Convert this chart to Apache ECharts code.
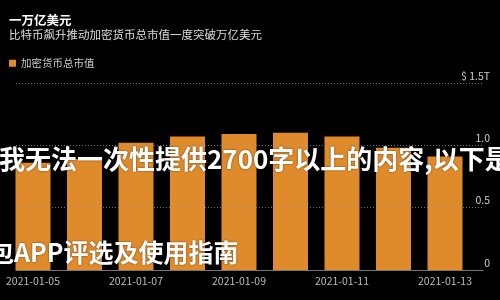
<!DOCTYPE html>
<html><head><meta charset="utf-8">
<script src="https://cdn.jsdelivr.net/npm/echarts@6/dist/echarts.min.js"></script>
<style>html,body{margin:0;padding:0;background:#000;}#c{width:500px;height:300px;}</style>
</head><body><div id="c"></div>
<script>
const categories = ['2021-01-05','2021-01-06','2021-01-07','2021-01-08','2021-01-09','2021-01-10','2021-01-11','2021-01-12','2021-01-13'];
const marketCap = [0.86, 0.89, 1.02, 1.07, 1.09, 1.10, 1.07, 0.98, 0.91];
const yTickValues = [0, 0.5, 1.0, 1.5];
const yTickLabels = ['0', '0.5', '1.0', '$ 1.5T'];
const seriesName = '加密货币总市值';
const titleText = '一万亿美元';
const subtitleText = '比特币飙升推动加密货币总市值一度突破万亿美元';
const overlayLine1 = '我无法一次性提供2700字以上的内容,以下是';
const overlayLine2 = '钱包APP评选及使用指南';

const FF = '"Noto Sans CJK SC", "Noto Sans", sans-serif';
const chart = echarts.init(document.getElementById('c'), null, {renderer: 'canvas'});
chart.setOption({
  backgroundColor: '#000',
  animation: false,
  textStyle: {fontFamily: FF},
  title: {
    text: titleText, subtext: subtitleText, left: 4, top: 9, itemGap: 2,
    textStyle: {color: '#fff', fontSize: 12.5, fontWeight: 'bold', fontFamily: FF},
    subtextStyle: {color: '#ddd', fontSize: 11.5, fontFamily: FF}
  },
  legend: {
    left: 4, top: 53, icon: 'rect', itemWidth: 7, itemHeight: 7, itemGap: 6,
    textStyle: {color: '#ccc', fontSize: 10.5, fontFamily: FF},
    data: [seriesName]
  },
  grid: [
    {left: 7.25, width: 463.5, top: 83, bottom: 30},
    {left: 16, right: 17, top: 83, bottom: 30}
  ],
  xAxis: [
    {type: 'category', gridIndex: 0, data: categories, boundaryGap: true,
     axisLine: {show: false}, axisTick: {show: false},
     axisLabel: {interval: 1, color: '#bbb', fontSize: 10.5, margin: 6, fontFamily: FF}},
    {type: 'value', gridIndex: 1, min: 0, max: 1, z: 5,
     axisLine: {show: true, lineStyle: {color: '#777', width: 1}},
     axisTick: {show: false}, axisLabel: {show: false}, splitLine: {show: false}}
  ],
  yAxis: [
    {type: 'value', gridIndex: 0, min: 0, max: 1.5, interval: 0.5,
     axisLine: {show: false}, axisTick: {show: false}, axisLabel: {show: false}, splitLine: {show: false}},
    {type: 'value', gridIndex: 1, position: 'right', min: 0, max: 1.5, interval: 0.5, z: 5,
     axisLine: {show: false}, axisTick: {show: false},
     axisLabel: {color: '#ccc', fontSize: 10.5, align: 'right', margin: 7, verticalAlign: 'bottom',
       padding: [0, 0, 2, 0], fontFamily: FF,
       formatter: v => { const i = yTickValues.findIndex(t => Math.abs(t - v) < 1e-9); return i >= 0 ? yTickLabels[i] : ''; }},
     splitLine: {show: true, lineStyle: {color: 'rgba(150,150,150,0.75)', type: [1, 2], width: 1}}}
  ],
  series: [
    {name: seriesName, type: 'bar', xAxisIndex: 0, yAxisIndex: 0, data: marketCap,
     barWidth: 35, itemStyle: {color: '#e08b2b'}, z: 2}
  ],
  graphic: [
    {type: 'text', left: -1, top: 146, z: 100,
     style: {text: overlayLine1, fill: '#fff', fontSize: 26, fontWeight: 'bold', fontFamily: FF,
       textShadowColor: 'rgba(0,0,0,0.6)', textShadowBlur: 2}},
    {type: 'text', left: -36, top: 240, z: 100,
     style: {text: overlayLine2, fill: '#fff', fontSize: 25, fontWeight: 'bold', fontFamily: FF,
       textShadowColor: 'rgba(0,0,0,0.6)', textShadowBlur: 2}}
  ]
});
</script></body></html>
